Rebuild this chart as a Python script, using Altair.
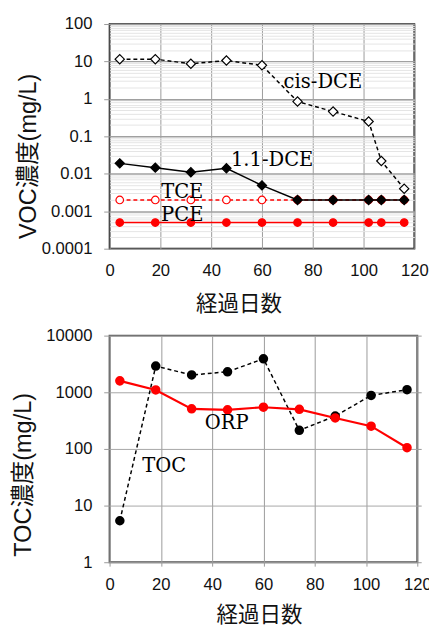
import altair as alt
import pandas as pd

# ---- top chart data (VOC) ----
voc_days = [4, 18, 32, 46, 60, 74, 88, 102, 107, 116]
cis_dce = [11.5, 11.5, 8.7, 10.6, 7.9, 0.85, 0.46, 0.25, 0.022, 0.004]
dce_11 = [0.019, 0.0146, 0.011, 0.014, 0.0049, 0.002, 0.002, 0.002, 0.002, 0.002]
tce = [0.002, 0.002, 0.002, 0.002, 0.002, 0.002, 0.002, 0.002, 0.002, 0.002]
pce = [0.0005, 0.0005, 0.0005, 0.0005, 0.0005, 0.0005, 0.0005, 0.0005, 0.0005, 0.0005]

voc_labels = ["cis-DCE", "1.1-DCE", "TCE", "PCE"]
voc_label_x = [84, 64, 28.6, 28.6]
voc_label_y = [2.8, 0.023, 0.0032, 0.00079]

# ---- bottom chart data (TOC / ORP) ----
toc_days = [4, 18, 32, 46, 60, 74, 88, 102, 116]
toc = [5.4, 2900, 2020, 2300, 3900, 213, 380, 880, 1110]
orp = [1590, 1100, 510, 490, 545, 500, 352, 252, 105]

toc_labels = ["ORP", "TOC"]
toc_label_x = [45.7, 21.3]
toc_label_y = [280, 49]

x_ticks = [0, 20, 40, 60, 80, 100, 120]
voc_decades = [0.0001, 0.001, 0.01, 0.1, 1, 10, 100]
toc_decades = [1, 10, 100, 1000, 10000]
voc_grid = [m * d for d in voc_decades[:-1] for m in range(1, 10)] + [voc_decades[-1]]

LABEL_FONT = "Liberation Sans"
TITLE_FONT = "Liberation Sans, Noto Sans CJK JP"
CJK = "Noto Sans CJK JP"
SERIF = "DejaVu Serif"

is_decade = "abs(log(datum.value)/LN10 - round(log(datum.value)/LN10)) < 0.000001"


def x_axis(title_x, tick_size, label_pad, title_y):
    return alt.Axis(values=x_ticks, title="経過日数", titleFont=CJK, titleFontSize=22,
                    titleFontWeight="normal", titleColor="#111", titleX=title_x,
                    titleY=title_y, titleBaseline="middle", titleAlign="center",
                    labelFont=LABEL_FONT, labelFontSize=17, labelFlush=False,
                    labelColor="#111", labelPadding=label_pad, tickSize=tick_size,
                    tickColor="#999", ticks=tick_size > 0,
                    domain=False, grid=True, gridColor="#9a9a9a", gridWidth=1)


voc_x = alt.Scale(domain=[0, 120], nice=False, zero=False)
voc_y = alt.Scale(type="log", domain=[0.0001, 100], nice=False)
voc_yaxis = alt.Axis(values=voc_grid, format="~g",
                     labelExpr="(" + is_decade + ") ? datum.label : ''",
                     title="VOC濃度(mg/L)", titleFont=TITLE_FONT, titleFontSize=24,
                     titleFontWeight="normal", titleColor="#111", titlePadding=1,
                     titleY=135, titleAlign="center",
                     labelFont=LABEL_FONT, labelFontSize=17, labelColor="#111",
                     labelPadding=12, tickSize=6, tickColor="#999",
                     tickOpacity={"condition": {"test": is_decade, "value": 1}, "value": 0},
                     domain=False, grid=True,
                     gridColor={"condition": {"test": is_decade, "value": "#a0a0a0"}, "value": "#e4e4e4"},
                     gridWidth={"condition": {"test": is_decade, "value": 1.5}, "value": 1})
voc_xaxis = x_axis(132, 0, 14, 56)


def enc(base, ycol):
    return base.encode(x=alt.X("day:Q", scale=voc_x, axis=voc_xaxis),
                       y=alt.Y(ycol + ":Q", scale=voc_y, axis=voc_yaxis))


def voc_series(vals, color, dash, shape, fill, size):
    df = pd.DataFrame({"day": voc_days, "v": vals})
    b = alt.Chart(df)
    line_kw = dict(color=color, strokeWidth=1.5)
    if dash:
        line_kw["strokeDash"] = dash
    line = enc(b.mark_line(**line_kw), "v")
    pts = enc(b.mark_point(shape=shape, filled=True, fill=fill, stroke=color,
                           strokeWidth=1.2, size=size, opacity=1), "v")
    return [line, pts]


voc_layers = []
voc_layers += voc_series(pce, "#ff0000", None, "circle", "#ff0000", 60)
voc_layers += voc_series(tce, "#ff0000", [4, 3], "circle", "#ffffff", 60)
voc_layers += voc_series(dce_11, "#000000", None, "diamond", "#000000", 90)
voc_layers += voc_series(cis_dce, "#000000", [4, 3], "diamond", "#ffffff", 90)

voc_text = enc(alt.Chart(pd.DataFrame({"day": voc_label_x, "v": voc_label_y, "t": voc_labels}))
               .mark_text(font=SERIF, fontSize=20, color="#000", align="center", baseline="middle"),
               "v").encode(text="t:N")
voc_layers.append(voc_text)

top = alt.layer(*voc_layers).properties(
    width=312, height=230, view=alt.ViewBackground(stroke="#111", strokeWidth=1.8))

# ---- bottom chart ----
toc_x = alt.Scale(domain=[0, 120], nice=False, zero=False)
toc_y = alt.Scale(type="log", domain=[1, 10000], nice=False)
toc_yaxis = alt.Axis(values=toc_decades, format="d", title="TOC濃度(mg/L)",
                     titleFont=TITLE_FONT, titleFontSize=24, titleFontWeight="normal",
                     titleColor="#111", titlePadding=11, titleY=142, titleAlign="center",
                     labelFont=LABEL_FONT, labelFontSize=17, labelColor="#111", labelPadding=12,
                     tickSize=6, tickColor="#999", domain=False, grid=True,
                     gridColor="#a6a6a6", gridWidth=1)
toc_yaxis_right = alt.Axis(values=toc_decades, orient="right", labels=False, title=None,
                           tickSize=4, tickColor="#999", domain=False, grid=False,
                           minExtent=0, maxExtent=4)
toc_xaxis = x_axis(153, 4, 11, 54)


def enc2(base, ycol, yaxis=toc_yaxis):
    return base.encode(x=alt.X("day:Q", scale=toc_x, axis=toc_xaxis),
                       y=alt.Y(ycol + ":Q", scale=toc_y, axis=yaxis))


def toc_series(vals, color, dash, width):
    df = pd.DataFrame({"day": toc_days, "v": vals})
    b = alt.Chart(df)
    line_kw = dict(color=color, strokeWidth=width)
    if dash:
        line_kw["strokeDash"] = dash
    return [enc2(b.mark_line(**line_kw), "v"),
            enc2(b.mark_point(shape="circle", filled=True, fill=color, stroke=color,
                              size=60, opacity=1), "v")]


toc_layers = []
toc_layers += toc_series(toc, "#000000", [4, 3], 1.5)
toc_layers += toc_series(orp, "#ff0000", None, 2.2)
toc_layers.append(enc2(alt.Chart(pd.DataFrame({"day": toc_label_x, "v": toc_label_y, "t": toc_labels}))
                       .mark_text(font=SERIF, fontSize=20, color="#000", align="center", baseline="middle"),
                       "v").encode(text="t:N"))

bottom_main = alt.layer(*toc_layers)
right_ticks = enc2(alt.Chart(pd.DataFrame({"day": toc_days, "v": toc})).mark_point(opacity=0),
                   "v", toc_yaxis_right)

bottom = alt.layer(bottom_main, right_ticks).resolve_scale(y="shared").resolve_axis(
    y="independent").properties(
    width=315, height=232, view=alt.ViewBackground(stroke="#555", strokeWidth=2))

chart = alt.vconcat(top, bottom, spacing=11).properties(
    padding={"left": 2, "top": -1, "right": -4, "bottom": -2}
).configure(background="white")

chart.save("out.html", embed_options={"renderer": "svg", "actions": False})
